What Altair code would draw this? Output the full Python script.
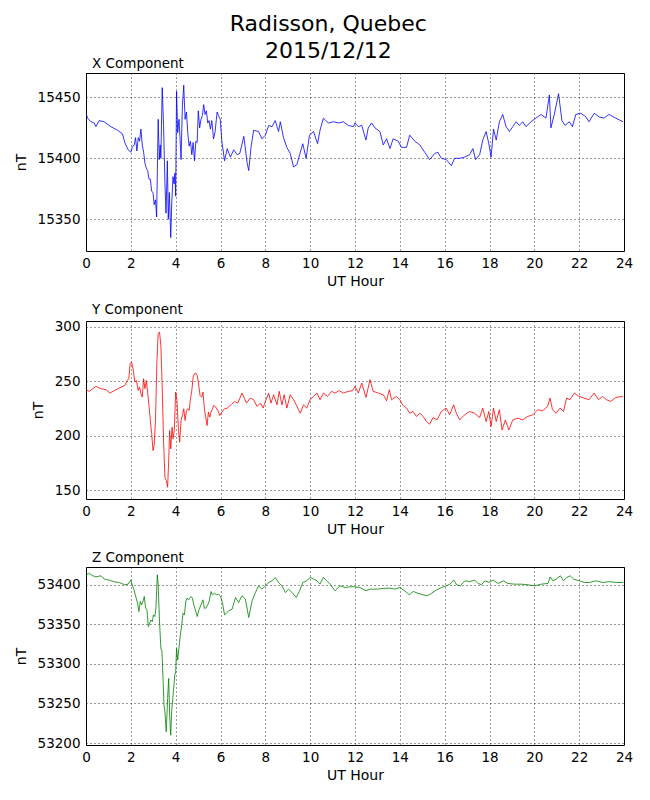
import altair as alt
import pandas as pd

# ---- X component (nT) ----
x_hours = [0.00, 0.07, 0.22, 0.37, 0.44, 0.59, 0.81, 1.11, 1.41, 1.63,
           1.73, 1.88, 2.00, 2.06, 2.15, 2.21, 2.27, 2.33, 2.39, 2.45, 2.51, 2.57, 2.63, 2.69, 2.75,
           2.81, 2.87, 2.93, 2.99, 3.04, 3.10, 3.15, 3.22, 3.27, 3.31, 3.34, 3.40, 3.46, 3.52, 3.57,
           3.63, 3.67, 3.72, 3.78, 3.82, 3.88, 3.93, 3.97, 4.00, 4.04, 4.09, 4.15, 4.19, 4.24, 4.30,
           4.36, 4.42, 4.48, 4.54, 4.60, 4.66, 4.72, 4.78, 4.84, 4.90, 4.96, 5.01, 5.07, 5.13, 5.19,
           5.25, 5.31, 5.37, 5.43, 5.49, 5.55, 5.61, 5.69, 5.76, 5.85, 5.91, 5.99, 6.06, 6.18,
           6.30, 6.44, 6.59, 6.74, 6.86, 7.04, 7.19, 7.26, 7.36,
           7.48, 7.70, 7.85, 8.00, 8.15, 8.30, 8.44, 8.59, 8.67, 8.81, 8.96, 9.11, 9.26, 9.41, 9.56,
           9.67, 9.82, 9.97, 10.15, 10.33, 10.44, 10.59, 10.81, 11.04, 11.26, 11.48, 11.70, 11.93,
           12.00, 12.15, 12.30, 12.49, 12.59, 12.74, 12.89, 13.11, 13.26, 13.41, 13.56, 13.70, 13.93,
           14.07, 14.30, 14.44, 14.67, 14.89, 15.11, 15.33, 15.56, 15.70, 15.85, 16.07, 16.30, 16.44,
           16.67, 16.89, 17.11, 17.26, 17.38, 17.56, 17.70, 17.85, 17.97, 18.07, 18.18, 18.30, 18.44,
           18.59, 18.74, 18.89, 19.04, 19.19, 19.33, 19.48, 19.63, 19.85, 20.07, 20.30, 20.52, 20.67,
           20.74, 20.89, 21.08, 21.23, 21.37, 21.56, 21.70, 21.85, 22.07, 22.30, 22.44, 22.67, 22.89,
           23.11, 23.33, 23.63, 23.96]
x_values = [15437, 15433, 15430, 15429, 15426, 15431, 15430, 15426, 15423, 15420,
            15413, 15407, 15405, 15409, 15411, 15417, 15406, 15417, 15414, 15424, 15411, 15405, 15396,
            15392, 15390, 15383, 15383, 15373, 15372, 15362, 15366, 15352, 15432, 15399, 15411, 15400,
            15458, 15427, 15380, 15355, 15398, 15350, 15372, 15335, 15361, 15385, 15379, 15388, 15369,
            15455, 15421, 15432, 15418, 15399, 15443, 15460, 15432, 15438, 15421, 15410, 15414, 15403,
            15413, 15398, 15414, 15413, 15439, 15425, 15432, 15435, 15444, 15436, 15439, 15429, 15431,
            15424, 15431, 15416, 15422, 15438, 15435, 15432, 15414, 15398,
            15408, 15401, 15407, 15403, 15404, 15418, 15396, 15390, 15409,
            15423, 15422, 15416, 15419, 15427, 15426, 15431, 15422, 15430, 15417, 15409, 15404, 15393,
            15395, 15405, 15412, 15400, 15419, 15422, 15412, 15423, 15433, 15429, 15430, 15429, 15430,
            15427, 15426,
            15429, 15426, 15427, 15415, 15425, 15429, 15425, 15422, 15411, 15416, 15408, 15416, 15414,
            15409, 15409, 15419, 15414, 15411, 15405, 15399, 15404, 15405, 15400, 15399, 15394, 15400,
            15400, 15401, 15403, 15408, 15399, 15403, 15415, 15422, 15412, 15401, 15424, 15415, 15430,
            15436, 15426, 15422, 15426, 15430, 15427, 15430, 15426, 15430, 15433, 15436, 15433, 15452,
            15425, 15436, 15453, 15431, 15427, 15430, 15426, 15436, 15437, 15434, 15430, 15437, 15434,
            15433, 15436, 15433, 15430]

# ---- Y component (nT) ----
y_hours = [0.00, 0.15, 0.30, 0.44, 0.67, 0.89, 1.07, 1.26, 1.48,
           1.73, 1.85, 1.91, 1.97, 2.03, 2.10, 2.18, 2.25, 2.33, 2.39, 2.45, 2.51, 2.57, 2.63, 2.69,
           2.75, 2.81, 2.87, 2.93, 2.99, 3.04, 3.10, 3.16, 3.22, 3.28, 3.34, 3.40, 3.46, 3.52, 3.58,
           3.64, 3.69, 3.73, 3.78, 3.84, 3.88, 3.94, 4.00, 4.06, 4.12, 4.18, 4.24, 4.30, 4.36, 4.42,
           4.48, 4.54, 4.60, 4.66, 4.72, 4.78, 4.84, 4.90, 4.96, 5.01, 5.09, 5.16, 5.22, 5.28, 5.34,
           5.40, 5.46, 5.52, 5.58, 5.64, 5.70, 5.79, 5.88, 5.97, 6.06, 6.18,
           6.30, 6.47, 6.62, 6.77,
           6.96, 7.16, 7.33, 7.48, 7.63, 7.78, 7.90, 8.00, 8.15, 8.25, 8.37, 8.52, 8.62, 8.74, 8.84,
           8.96, 9.11, 9.26, 9.41, 9.56, 9.70, 9.85, 10.00, 10.15, 10.30, 10.44, 10.59, 10.77, 10.96,
           11.11, 11.30, 11.48, 11.70, 11.90,
           12.00, 12.15, 12.30, 12.49, 12.67, 12.81, 13.04, 13.26, 13.41, 13.53, 13.63, 13.85, 14.00,
           14.12, 14.30, 14.44, 14.59, 14.74, 14.89, 15.04, 15.19, 15.33, 15.48, 15.66, 15.85, 16.07,
           16.22, 16.40, 16.52, 16.67, 16.89, 17.11, 17.33, 17.56, 17.70, 17.85, 17.97, 18.07, 18.18,
           18.30, 18.44, 18.56, 18.71, 18.86, 19.04, 19.26, 19.48, 19.70, 19.93, 20.15, 20.37, 20.59,
           20.70, 20.81, 20.96, 21.15, 21.30, 21.44, 21.59, 21.78, 22.00, 22.22, 22.44, 22.67, 22.86,
           23.04, 23.22, 23.41, 23.63, 23.96]
y_values = [242.4, 240.9, 243.3, 245.5, 243.3, 242.4, 239.3, 241.5, 243.9,
            246.3, 250.9, 252.5, 266.3, 267.8, 261.7, 249.4, 250.9, 241.7, 244.8, 238.7, 235.6, 252.5,
            243.3, 250.9, 240.2, 227.9, 214.1, 201.9, 186.5, 191.1, 214.1, 266.3, 293.9, 295.4, 283.1,
            244.8, 195.7, 162.0, 158.9, 152.8, 177.3, 204.9, 188.0, 208.0, 197.3, 204.9, 240.2, 232.5,
            206.5, 194.2, 214.1, 218.7, 224.9, 214.1, 223.3, 224.9, 223.3, 234.1, 241.7, 254.0, 257.1,
            257.7, 255.5, 249.4, 237.1, 235.6, 240.2, 224.9, 217.2, 209.5, 221.8, 217.2, 221.8, 224.9,
            227.9, 226.4, 223.3, 218.7, 221.8, 224.9,
            225.5, 228.5, 231.6, 230.1,
            239.3, 230.1, 234.7, 233.2, 227.0, 230.1, 225.5, 231.6, 239.3, 230.1, 237.8, 228.5, 240.9,
            228.5, 237.8, 225.5, 237.8, 233.2, 227.0, 220.8, 228.5, 225.5, 233.2, 236.2, 239.3, 233.2,
            239.3, 236.2, 240.9, 239.3, 241.5, 239.3, 240.9, 241.5,
            245.5, 239.3, 248.6, 235.3, 251.6, 240.9, 239.3, 237.8, 232.2, 242.4, 233.2, 236.2, 233.2,
            228.5, 225.5, 220.8, 222.4, 217.8, 220.8, 217.8, 213.1, 210.7, 216.8, 214.7, 222.4, 225.5,
            219.3, 228.5, 220.8, 214.7, 219.3, 222.4, 220.8, 216.8, 225.5, 213.1, 222.4, 208.5, 225.5,
            213.1, 224.0, 205.4, 214.7, 205.4, 214.7, 216.2, 214.7, 217.8, 219.3, 224.0, 223.0, 227.0,
            234.7, 224.0, 220.8, 225.5, 222.4, 234.7, 233.2, 239.3, 236.2, 234.7, 233.2, 239.3, 233.2,
            236.2, 233.2, 231.6, 235.3, 236.2]

# ---- Z component (nT) ----
z_hours = [0.00, 0.15, 0.30, 0.44, 0.67, 0.81, 1.04, 1.26, 1.48,
           1.73, 1.88, 2.00, 2.06, 2.12, 2.18, 2.24, 2.30, 2.36, 2.42, 2.48, 2.54, 2.60, 2.66, 2.72,
           2.78, 2.84, 2.90, 2.96, 3.01, 3.07, 3.12, 3.18, 3.22, 3.28, 3.34, 3.39, 3.43, 3.48, 3.52,
           3.58, 3.64, 3.69, 3.73, 3.78, 3.82, 3.87, 3.91, 3.96, 4.00, 4.04, 4.09, 4.15, 4.21, 4.27,
           4.33, 4.39, 4.45, 4.51, 4.57, 4.63, 4.69, 4.75, 4.81, 4.90, 4.96, 5.04, 5.13, 5.22, 5.28,
           5.34, 5.43, 5.49, 5.58, 5.64, 5.73, 5.82, 5.91, 6.00, 6.09, 6.18,
           6.37, 6.52, 6.67, 6.81, 6.96, 7.11, 7.26, 7.41, 7.56, 7.70, 7.85,
           8.00, 8.15, 8.30, 8.44, 8.59, 8.74, 8.89, 9.04, 9.19, 9.38, 9.53, 9.67, 9.85, 10.00, 10.15,
           10.30, 10.44, 10.59, 10.74, 10.89, 11.11, 11.33, 11.56, 11.78,
           12.00, 12.22, 12.49, 12.67, 12.96, 13.26, 13.56, 13.78, 14.00, 14.22, 14.42, 14.60, 14.82,
           15.04, 15.22, 15.41, 15.63, 15.86, 16.08, 16.23, 16.41, 16.53, 16.70, 16.90, 17.12, 17.34,
           17.49, 17.64, 17.79, 17.98, 18.16, 18.38, 18.63, 18.82, 19.12, 19.42, 19.72, 20.01, 20.31,
           20.61, 20.71, 20.83, 20.98, 21.16, 21.30, 21.45, 21.60, 21.75, 22.01, 22.24, 22.46, 22.76,
           23.05, 23.35, 23.65, 23.97]
z_values = [53412.6, 53414.3, 53411.4, 53410.1, 53411.4, 53407.2, 53405.9, 53403.8, 53402.9,
            53400.0, 53400.8, 53406.3, 53400.0, 53395.8, 53389.4, 53383.1, 53376.8, 53366.2, 53378.9,
            53374.6, 53378.9, 53385.2, 53370.4, 53368.3, 53347.2, 53351.4, 53355.6, 53353.5, 53362.0,
            53359.9, 53370.4, 53412.7, 53400.0, 53353.5, 53319.7, 53315.5, 53285.9, 53247.9, 53239.4,
            53214.1, 53256.3, 53281.7, 53235.2, 53209.8, 53239.4, 53256.3, 53269.0, 53285.9, 53290.1,
            53319.7, 53304.9, 53321.8, 53336.6, 53349.3, 53364.1, 53362.0, 53378.9, 53383.1, 53381.0,
            53383.1, 53385.2, 53383.1, 53374.6, 53366.2, 53359.9, 53368.3, 53374.6, 53381.0, 53370.4,
            53370.4, 53374.6, 53378.9, 53391.5, 53387.3, 53389.4, 53387.3, 53388.2, 53385.2, 53376.8,
            53362.0,
            53367.2, 53369.3, 53384.0, 53377.7, 53386.1, 53382.0, 53358.7, 53379.8, 53390.3, 53398.7,
            53394.5,
            53398.7, 53402.9, 53405.0, 53409.3, 53402.9, 53398.7, 53390.3, 53394.5, 53390.3, 53384.0,
            53392.4, 53402.9, 53405.0, 53409.3, 53407.2, 53405.0, 53400.8, 53409.3, 53405.0, 53400.8,
            53392.4, 53398.7, 53396.6, 53397.5,
            53397.5, 53396.6, 53392.4, 53394.5, 53394.5, 53395.4, 53395.8, 53394.5, 53396.6, 53392.4,
            53387.4, 53391.6, 53389.1, 53387.4, 53386.0, 53389.1, 53393.3, 53396.6, 53398.7, 53400.8,
            53406.0, 53400.0, 53398.7, 53405.0, 53404.0, 53406.0, 53401.7, 53400.0, 53405.0, 53403.0,
            53406.0, 53401.7, 53405.0, 53401.7, 53400.8, 53400.8, 53400.0, 53398.7, 53400.8, 53401.7,
            53410.0, 53405.0, 53407.2, 53411.4, 53405.0, 53409.3, 53411.4, 53407.2, 53405.0, 53402.9,
            53402.9, 53405.0, 53402.9, 53404.0, 53402.9, 53402.9]

hour_ticks = list(range(0, 25, 2))
x_ticks = [15350, 15400, 15450]
y_ticks = [150, 200, 250, 300]
z_ticks = [53200, 53250, 53300, 53350, 53400]

FONT = "DejaVu Sans"


def panel(hours, values, color, title, domain, ticks):
    df = pd.DataFrame({"hour": hours, "nT": values})
    return (
        alt.Chart(df)
        .mark_line(color=color, strokeWidth=0.8, clip=True)
        .encode(
            x=alt.X("hour:Q", title="UT Hour",
                    scale=alt.Scale(domain=[0, 24], nice=False, zero=False),
                    axis=alt.Axis(values=hour_ticks, format="d", labelFlush=False)),
            y=alt.Y("nT:Q", title="nT",
                    scale=alt.Scale(domain=domain, nice=False, zero=False),
                    axis=alt.Axis(values=ticks, format="d", labelFlush=False)),
        )
        .properties(
            width=538, height=178,
            title=alt.TitleParams(title, anchor="start", frame="group", fontSize=13.5,
                                  fontWeight="normal", font=FONT, color="black", offset=3, dx=6),
        )
    )


chart = alt.vconcat(
    panel(x_hours, x_values, "#0000ff", "X Component", [15324, 15470], x_ticks),
    panel(y_hours, y_values, "#ff0000", "Y Component", [142, 305.5], y_ticks),
    panel(z_hours, z_values, "#008000", "Z Component", [53197.5, 53422.5], z_ticks),
    spacing=13,
).properties(
    title=alt.TitleParams(["Radisson, Quebec", "2015/12/12"], anchor="middle", fontSize=22,
                          fontWeight="normal", font=FONT, color="black", lineHeight=27,
                          offset=-3, dx=5, dy=4),
    background="white",
).configure_view(
    stroke="black", strokeWidth=1
).configure_axis(
    grid=True, gridColor="black", gridDash=[1, 3], gridOpacity=1, gridWidth=0.8,
    domain=False, ticks=False, labelPadding=5,
    labelFont=FONT, labelFontSize=13.5, labelColor="black",
    titleFont=FONT, titleFontSize=14, titleFontWeight="normal", titleColor="black",
    titlePadding=5,
).configure_axisY(
    labelPadding=6, titlePadding=9,
)

chart.save("out.html", embed_options={"renderer": "svg", "actions": False})
